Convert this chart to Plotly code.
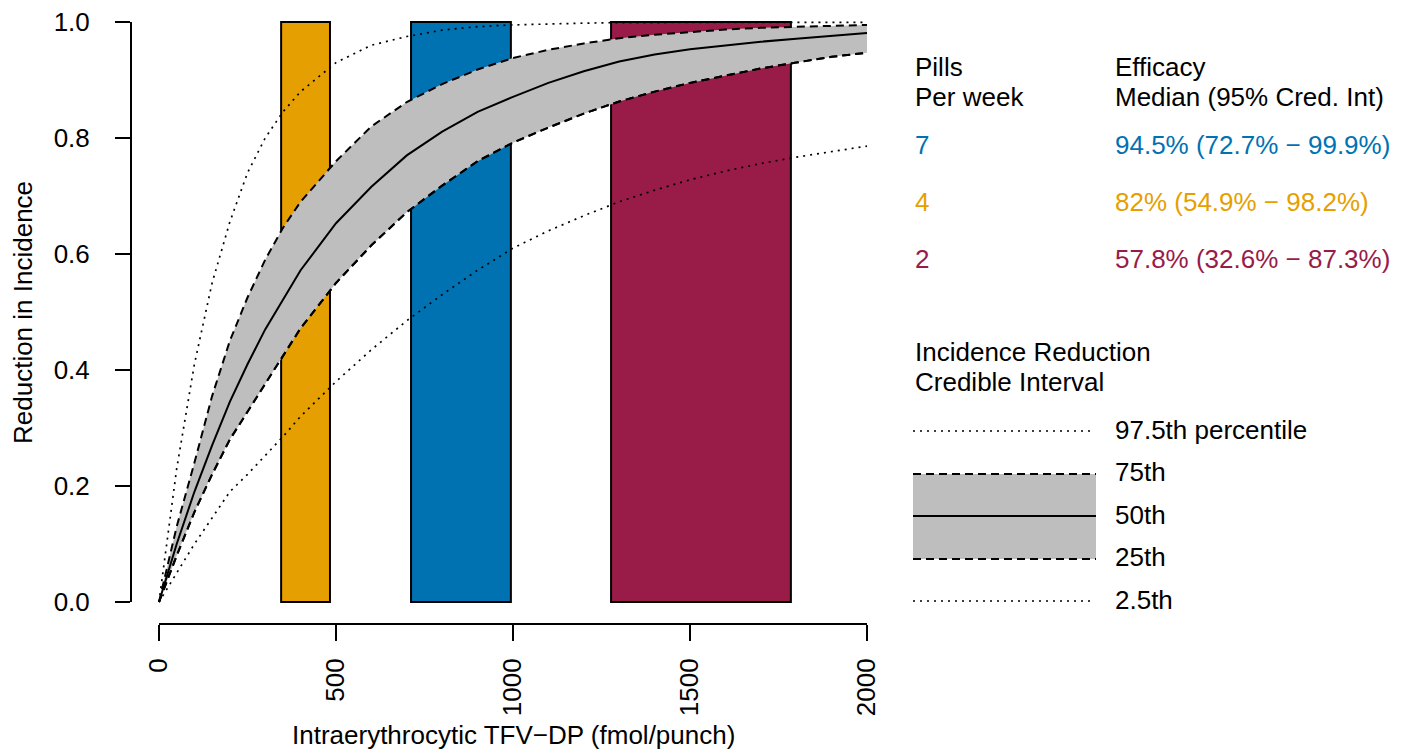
import plotly.graph_objects as go

# ---------------- data ----------------
conc = [0, 50, 100, 150, 200, 250, 300, 350, 400, 500, 600, 700, 800, 900, 1000,
        1100, 1200, 1300, 1400, 1500, 1600, 1700, 1800, 1900, 2000]
p975 = [0, 0.23, 0.41, 0.55, 0.655, 0.74, 0.80, 0.845, 0.88, 0.93, 0.96, 0.975, 0.986,
        0.992, 0.995, 0.997, 0.998, 0.999, 0.999, 0.9995, 0.9995, 0.9995, 0.9995, 0.9995, 0.9995]
p75 = [0, 0.13, 0.24, 0.355, 0.45, 0.525, 0.59, 0.645, 0.69, 0.76, 0.82, 0.862, 0.893,
       0.918, 0.938, 0.952, 0.963, 0.972, 0.978, 0.983, 0.987, 0.99, 0.992, 0.994, 0.995]
p50 = [0, 0.10, 0.19, 0.27, 0.345, 0.41, 0.47, 0.52, 0.572, 0.653, 0.716, 0.77, 0.811,
       0.845, 0.871, 0.895, 0.915, 0.932, 0.944, 0.953, 0.96, 0.966, 0.971, 0.976, 0.981]
p25 = [0, 0.08, 0.155, 0.22, 0.28, 0.328, 0.375, 0.425, 0.472, 0.55, 0.615, 0.672, 0.718,
       0.76, 0.792, 0.818, 0.842, 0.863, 0.88, 0.895, 0.908, 0.92, 0.93, 0.94, 0.947]
p025 = [0, 0.05, 0.10, 0.145, 0.19, 0.22, 0.253, 0.285, 0.32, 0.38, 0.435, 0.485, 0.53,
        0.572, 0.61, 0.64, 0.666, 0.69, 0.71, 0.728, 0.743, 0.756, 0.767, 0.777, 0.786]

pills = ["7", "4", "2"]
bar_lo = [712, 345, 1277]
bar_hi = [994, 483, 1785]
bar_colors = ["#0072B2", "#E69F00", "#981B48"]
efficacy = ["94.5% (72.7% \u2212 99.9%)", "82% (54.9% \u2212 98.2%)", "57.8% (32.6% \u2212 87.3%)"]

xticks = [0, 500, 1000, 1500, 2000]
yticks = [0.0, 0.2, 0.4, 0.6, 0.8, 1.0]
ytick_text = ["0.0", "0.2", "0.4", "0.6", "0.8", "1.0"]

# ---------------- layout constants ----------------
OFF = 8                      # page body margin
W, H = 1417 - OFF, 750 - OFF
L, R, T, B = 131 - OFF, 1417 - 895, 0, 750 - 624
PW, PH = W - L - R, H - T - B
FONT = "Liberation Sans, Arial, sans-serif"
FS = 26
DOT = "2px,5px"
DASH = "8px,5px"


def px2x(px):
    return (px - OFF - L) / PW


def py2y(py):
    return (H - B - (py - OFF)) / PH


fig = go.Figure()

# bars
fig.add_trace(go.Bar(
    x=[(a + b) / 2 for a, b in zip(bar_lo, bar_hi)],
    y=[1, 1, 1],
    width=[b - a for a, b in zip(bar_lo, bar_hi)],
    marker=dict(color=bar_colors, line=dict(color="black", width=2)),
    showlegend=False, hoverinfo="skip"))

# credible band
fig.add_trace(go.Scatter(x=conc, y=p25, mode="lines",
                         line=dict(color="black", width=2, dash=DASH),
                         showlegend=False, hoverinfo="skip"))
fig.add_trace(go.Scatter(x=conc, y=p75, mode="lines", fill="tonexty", fillcolor="#BEBEBE",
                         line=dict(color="black", width=2, dash=DASH),
                         showlegend=False, hoverinfo="skip"))
fig.add_trace(go.Scatter(x=conc, y=p25, mode="lines",
                         line=dict(color="black", width=2, dash=DASH),
                         showlegend=False, hoverinfo="skip"))
fig.add_trace(go.Scatter(x=conc, y=p50, mode="lines",
                         line=dict(color="black", width=2),
                         showlegend=False, hoverinfo="skip"))
fig.add_trace(go.Scatter(x=conc, y=p975, mode="lines",
                         line=dict(color="black", width=1.7, dash=DOT),
                         showlegend=False, hoverinfo="skip"))
fig.add_trace(go.Scatter(x=conc, y=p025, mode="lines",
                         line=dict(color="black", width=1.7, dash=DOT),
                         showlegend=False, hoverinfo="skip"))

# target pixel geometry: x 0->159px, 2000->867px ; y 0->602px, 1->22px
x_per_px = 2000 / 708.0
y_per_px = 1 / 580.0
plot_left, plot_right = L + OFF, L + OFF + PW
plot_top, plot_bot = T + OFF, T + OFF + PH
xr = [0 - (159 - plot_left) * x_per_px, 2000 + (plot_right - 867) * x_per_px]
yr = [0 - (plot_bot - 602) * y_per_px, 1 + (22 - plot_top) * y_per_px]

fig.update_layout(
    width=W, height=H,
    margin=dict(l=L, r=R, t=T, b=B),
    paper_bgcolor="white", plot_bgcolor="white",
    font=dict(family=FONT, size=FS, color="black"),
    barmode="overlay",
    xaxis=dict(range=xr, tickvals=xticks, ticktext=[str(v) for v in xticks],
               tickangle=-90, ticks="outside", ticklen=16, tickwidth=2, tickcolor="black",
               showgrid=False, zeroline=False, showline=False,
               ticklabelstandoff=7, ticklabeloverflow="allow", tickfont=dict(size=FS)),
    yaxis=dict(range=yr, tickvals=yticks, ticktext=ytick_text,
               ticks="outside", ticklen=15, tickwidth=2, tickcolor="black",
               showgrid=False, zeroline=False, showline=False,
               ticklabelstandoff=20, ticklabeloverflow="allow", tickfont=dict(size=FS)),
)

# axis lines
fig.add_shape(type="line", xref="x", yref="paper", x0=0, x1=2000, y0=0, y1=0,
              line=dict(color="black", width=2))
fig.add_shape(type="line", xref="paper", yref="y", x0=0, x1=0, y0=0, y1=1,
              line=dict(color="black", width=2))

ann = []
# axis titles
ann.append(dict(text="Intraerythrocytic TFV\u2212DP (fmol/punch)", xref="x", yref="paper",
                x=1000, y=py2y(735), xanchor="center", yanchor="middle", showarrow=False))
ann.append(dict(text="Reduction in Incidence", xref="paper", yref="y",
                x=px2x(23), y=0.5, textangle=-90, xanchor="center", yanchor="middle",
                showarrow=False))


def text(s, px, py, color="black"):
    ann.append(dict(text=s, xref="paper", yref="paper", x=px2x(px), y=py2y(py),
                    xanchor="left", yanchor="middle", showarrow=False,
                    font=dict(color=color, size=FS)))


text("Pills", 913, 67)
text("Per week", 913, 97)
text("Efficacy", 1113, 67)
text("Median (95% Cred. Int)", 1113, 97)
for i, (p, e, c) in enumerate(zip(pills, efficacy, bar_colors)):
    yy = 145 + i * 57
    text(p, 913, yy, c)
    text(e, 1113, yy, c)

text("Incidence Reduction", 913, 352)
text("Credible Interval", 913, 382)
text("97.5th percentile", 1113, 430)
text("75th", 1113, 472)
text("50th", 1113, 515)
text("25th", 1113, 557)
text("2.5th", 1113, 600)


def pline(x0, x1, y, dash=None, width=1.7):
    fig.add_shape(type="line", xref="paper", yref="paper",
                  x0=px2x(x0), x1=px2x(x1), y0=py2y(y), y1=py2y(y),
                  line=dict(color="black", width=width, dash=dash))


fig.add_shape(type="rect", xref="paper", yref="paper",
              x0=px2x(913), x1=px2x(1096), y0=py2y(559), y1=py2y(474),
              fillcolor="#BEBEBE", line=dict(width=0))
pline(913, 1092, 431, DOT)
pline(913, 1096, 474, DASH, 2)
pline(913, 1096, 516, None, 2)
pline(913, 1096, 559, DASH, 2)
pline(913, 1092, 601, DOT)

fig.update_layout(annotations=ann)
fig.write_html("out.html")
